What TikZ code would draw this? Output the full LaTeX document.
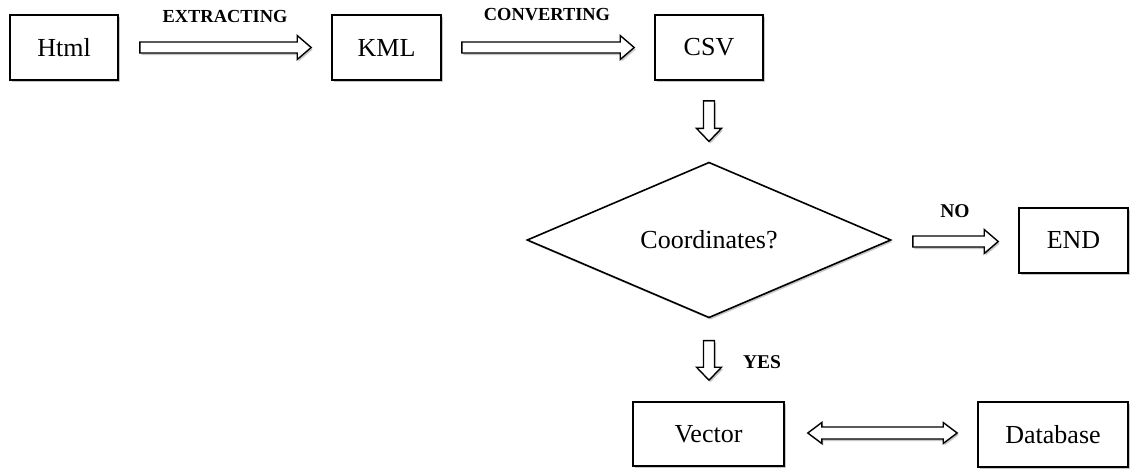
\documentclass[tikz,border=0pt]{standalone}
\usepackage{fontspec}
\setmainfont{Liberation Serif}
\usetikzlibrary{calc,shadows,shapes.geometric}
\newcommand\rarr[2]{%
  \draw[barrow] let \p1=(#1), \p2=(#2) in
    (\x1,\y1+5.5pt) -- (\x2-14pt,\y1+5.5pt) -- (\x2-14pt,\y1+12pt) -- (\x2,\y1)
    -- (\x2-14pt,\y1-12pt) -- (\x2-14pt,\y1-5.5pt) -- (\x1,\y1-5.5pt) -- cycle;}
\newcommand\darr[2]{%
  \draw[barrow] let \p1=(#1), \p2=(#2) in
    (\x1-5.5pt,\y1) -- (\x1-5.5pt,\y2+13pt) -- (\x1-12.5pt,\y2+13pt) -- (\x1,\y2)
    -- (\x1+12.5pt,\y2+13pt) -- (\x1+5.5pt,\y2+13pt) -- (\x1+5.5pt,\y1) -- cycle;}
\newcommand\lrarr[2]{%
  \draw[barrow] let \p1=(#1), \p2=(#2) in
    (\x1,\y1) -- (\x1+14pt,\y1+10.5pt) -- (\x1+14pt,\y1+6pt) -- (\x2-14pt,\y1+6pt)
    -- (\x2-14pt,\y1+10.5pt) -- (\x2,\y1) -- (\x2-14pt,\y1-10.5pt) -- (\x2-14pt,\y1-6pt)
    -- (\x1+14pt,\y1-6pt) -- (\x1+14pt,\y1-10.5pt) -- cycle;}
\tikzset{
  shad/.style={drop shadow={shadow xshift=1.5pt,shadow yshift=-2pt,opacity=0.22,fill=black}},
  box/.style={draw,line width=1.6pt,fill=white,shad,inner sep=0pt,
    minimum height=65pt,font=\fontsize{26}{30}\selectfont},
  barrow/.style={draw,line width=1.4pt,fill=white,shad,line join=miter},
  lbl/.style={font=\fontsize{18.4}{22}\selectfont\bfseries,inner sep=0pt},
  lbl2/.style={font=\fontsize{19.5}{23}\selectfont\bfseries,inner sep=0pt},
}
\begin{document}
\begin{tikzpicture}[x=1pt,y=-1pt]
\useasboundingbox (0,0) rectangle (1136,475);
\node[box,minimum width=108pt] (html) at (64,47.5) {Html};
\node[box,minimum width=109pt] (kml) at (386.5,47.5) {KML};
\node[box,minimum width=108pt] (csv) at (709,47.5) {CSV};
\node[diamond,draw,line width=1.6pt,fill=white,shad,inner sep=0pt,
  minimum width=364pt,minimum height=150pt,font=\fontsize{26}{30}\selectfont]
  (dia) at (709,240) {Coordinates?};
\node[box,minimum width=109pt] (end) at (1073.5,240.5) {END};
\node[box,minimum width=151pt,minimum height=64pt] (vec) at (708.5,434) {Vector};
\node[box,minimum width=150pt] (db) at (1053,434.5) {Database};

\coordinate (a1s) at ([xshift=21pt]html.east);
\coordinate (a1e) at ([xshift=-20pt]kml.west);
\coordinate (a2s) at ([xshift=20pt]kml.east);
\coordinate (a2e) at ([xshift=-20pt]csv.west);
\coordinate (a3s) at ([yshift=-20pt]csv.south);
\coordinate (a3e) at ([yshift=20pt]dia.north);
\coordinate (a4s) at ([xshift=21pt,yshift=-1.5pt]dia.east);
\coordinate (a4e) at ([xshift=-20pt,yshift=-1.5pt]end.west);
\coordinate (a5s) at ([yshift=-22pt]dia.south);
\coordinate (a5e) at ([yshift=21pt]vec.north);
\coordinate (a6s) at ([xshift=23pt,yshift=1pt]vec.east);
\coordinate (a6e) at ([xshift=-20pt,yshift=1pt]db.west);

\rarr{a1s}{a1e}
\rarr{a2s}{a2e}
\darr{a3s}{a3e}
\rarr{a4s}{a4e}
\darr{a5s}{a5e}
\lrarr{a6s}{a6e}

\node[lbl] (ext) at (225,16) {EXTRACTING};
\node[lbl] (conv) at (547,15) {CONVERTING};
\node[lbl2] (no) at (955,211) {NO};
\node[lbl2] (yes) at (762,362) {YES};
\end{tikzpicture}
\end{document}
